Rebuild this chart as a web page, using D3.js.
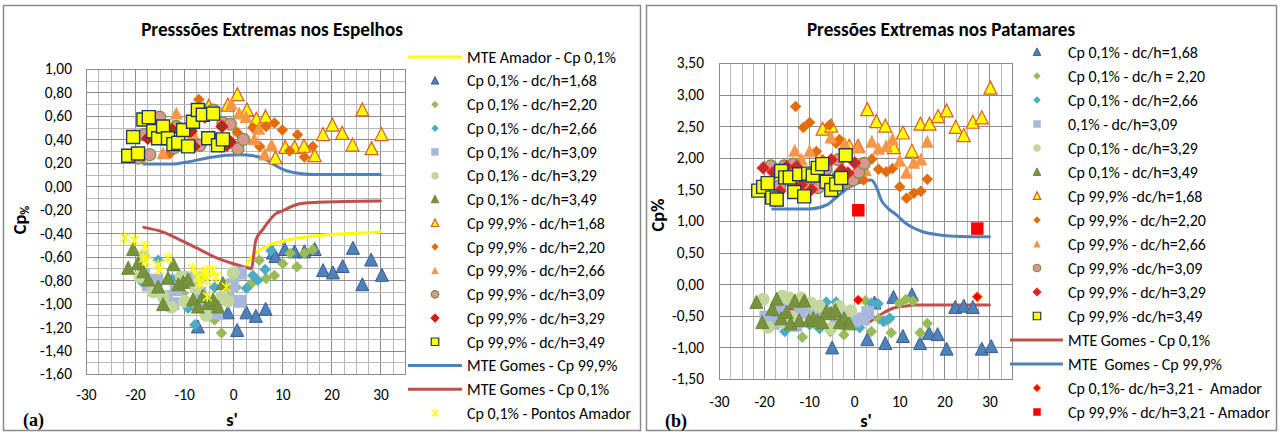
<!DOCTYPE html>
<html><head><meta charset="utf-8">
<script src="https://cdn.jsdelivr.net/npm/d3@7"></script>
<style>
html,body{margin:0;padding:0;background:#fff;}
text{white-space:pre;}
</style></head>
<body>
<svg id="c" width="1280" height="434"></svg>
<script>
// ---------- DATA ----------
const xTicks = [-30,-20,-10,0,10,20,30];
const yTicksL = [-1.6,-1.4,-1.2,-1.0,-0.8,-0.6,-0.4,-0.2,0,0.2,0.4,0.6,0.8,1.0];
const yTicksR = [-1.5,-1.0,-0.5,0,0.5,1.0,1.5,2.0,2.5,3.0,3.5];

// Left chart: Espelhos
const amadorLineL = [[2.4,-0.69],[3,-0.65],[4,-0.59],[5,-0.555],[6.7,-0.515],[8,-0.49],[10,-0.47],[12,-0.45],[15,-0.43],[20,-0.41],[25,-0.40],[30,-0.39]];
const gomes99L = [[-18.2,0.19],[-12.3,0.19],[-9.6,0.205],[-5.5,0.24],[-1.4,0.265],[1.3,0.27],[4.1,0.26],[6,0.24],[6.8,0.225],[8.5,0.18],[10.1,0.145],[12,0.12],[13.5,0.11],[16.9,0.10],[30,0.10]];
const gomes01L = [[-18.2,-0.35],[-14.3,-0.39],[-10.2,-0.47],[-6.8,-0.54],[-3.4,-0.61],[0,-0.66],[2,-0.685],[3.7,-0.70],[4.6,-0.46],[6,-0.37],[8.8,-0.23],[10,-0.21],[12,-0.17],[14.2,-0.145],[17.5,-0.135],[30,-0.125]];
const p01_168L = [[-7.2,-1.20],[-1.1,-1.08],[0.8,-1.23],[2.7,-1.08],[4.6,-1.11],[6.6,-1.05],[8.1,-0.57],[8.6,-0.60],[10.5,-0.54],[12.5,-0.56],[14.5,-0.56],[16.6,-0.54],[18.3,-0.72],[20.3,-0.74],[22.3,-0.685],[24.4,-0.53],[26.3,-0.84],[28.1,-0.63],[30.3,-0.76]];
const p01_220L = [[-15.6,-0.87],[-10.2,-0.91],[-6.4,-0.93],[-3.8,-1.14],[-2.4,-1.25],[0.6,-0.86],[3.7,-0.83],[5.3,-0.63],[6.7,-0.785],[8.4,-0.76],[10.1,-0.66],[11.6,-0.57],[13,-0.685],[14.5,-0.57],[16.2,-0.54]];
const p01_266L = [[-18.7,-0.81],[-15.3,-0.63],[-12.4,-0.79],[-9.2,-1.04],[-7.8,-1.18],[-3.8,-0.86],[0.9,-0.99],[2.7,-0.87],[4,-0.76],[5,-0.80],[6.5,-0.71],[7.7,-0.55]];
const p01_309L = [[-18.3,-0.76],[-17.3,-0.84],[-15.6,-0.80],[-13.7,-0.94],[-12.3,-1.0],[-11.6,-0.88],[-9.5,-0.78],[-6.8,-0.91],[-5.5,-1.05],[-3.4,-1.08],[-1.4,-0.94],[-0.2,-0.84],[1.3,-0.74],[1.3,-0.98]];
const p01_329L = [[-19,-0.77],[-18.3,-0.60],[-16.3,-0.90],[-14.3,-0.94],[-12.6,-1.03],[-10.6,-0.77],[-9.9,-0.98],[-7.6,-0.87],[-6.9,-0.78],[-5.5,-1.10],[-2.3,-0.94],[-1.1,-0.98],[0,-0.74]];
const p01_349L = [[-21.4,-0.70],[-20.4,-0.54],[-19.4,-0.66],[-18.3,-0.73],[-17.3,-0.80],[-15.3,-0.86],[-14.3,-1.01],[-13.3,-0.785],[-12.2,-0.67],[-11.2,-0.84],[-10.2,-0.82],[-9.2,-0.80],[-8.2,-0.97],[-7.2,-1.03],[-6.2,-0.94],[-5.1,-1.0],[-4.1,-0.97],[-3.1,-1.03],[-2.1,-0.83]];
const p999_168L = [[-5,0.68],[-1.1,0.69],[0.85,0.78],[2.8,0.65],[4.7,0.57],[6.6,0.59],[8.6,0.24],[10.6,0.33],[12.5,0.33],[14.4,0.34],[16.6,0.26],[18.3,0.44],[20.2,0.52],[22.2,0.45],[24.3,0.35],[26.3,0.65],[28.2,0.32],[30.2,0.44]];
const p999_220L = [[-12.9,0.28],[-11.8,0.39],[-7,0.74],[-2.2,0.51],[0.8,0.46],[4,0.50],[5.4,0.34],[6.7,0.51],[8.4,0.54],[10,0.48],[11.5,0.30],[13.1,0.44],[14.5,0.25],[16.2,0.34]];
const p999_266L = [[-18.9,0.25],[-14.3,0.28],[-11.6,0.62],[-8.2,0.45],[-4.2,0.65],[-0.4,0.70],[1.2,0.62],[2.6,0.59],[4.3,0.40],[5.2,0.49],[6.4,0.27],[7.8,0.35]];
const p999_309L = [[-19.4,0.24],[-18.2,0.44],[-17,0.27],[-15,0.59],[-12,0.33],[-11.6,0.51],[-8.1,0.53],[-6.8,0.35],[-5.8,0.62],[-4.1,0.65],[-2.1,0.54],[-0.6,0.53],[0.95,0.32],[2.1,0.40]];
const p999_329L = [[-20.2,0.28],[-17.4,0.41],[-12.4,0.48],[-8.6,0.47],[-8,0.34],[-5.8,0.59],[-4.1,0.42],[-2.3,0.51],[-1.3,0.35],[-0.6,0.38]];
const p999_349L = [[-21.4,0.26],[-19.4,0.28],[-20.4,0.42],[-18.3,0.57],[-17.2,0.59],[-16.3,0.47],[-15.3,0.41],[-14.3,0.51],[-13.3,0.41],[-12.2,0.36],[-11.2,0.37],[-10.2,0.48],[-9.2,0.34],[-8.2,0.55],[-7.2,0.65],[-6.2,0.61],[-5.1,0.41],[-4.1,0.62],[-3.1,0.35],[-2.1,0.40]];
const amadorPtsL = [[-22.1,-0.44],[-20.1,-0.46],[-18,-0.51],[-18.3,-0.61],[-17.7,-0.64],[-15.3,-0.67],[-15.1,-0.71],[-13.3,-0.61],[-8.2,-0.70],[-7.2,-0.77],[-6.8,-0.83],[-6.2,-0.74],[-5.4,-0.72],[-5.3,-0.80],[-5.3,-0.94],[-4.2,-0.72],[-3.5,-0.77],[-1.4,-0.86]];

// Right chart: Patamares
const gomes99R = [[-18.1,1.19],[-9.9,1.19],[-6.2,1.25],[-3.9,1.38],[-1,1.54],[1.6,1.62],[3.8,1.65],[4.9,1.54],[6,1.33],[7.5,1.2],[9.3,1.1],[11.5,0.96],[15.2,0.83],[18.9,0.78],[23.4,0.755],[30,0.75]];
const gomes01R = [[-18,-0.37],[-12.8,-0.40],[-8.4,-0.43],[-3.2,-0.51],[-0.3,-0.61],[2.7,-0.61],[5.6,-0.49],[8.6,-0.38],[11.5,-0.345],[13.7,-0.33],[30,-0.33]];
const amador01R = [[0.9,-0.25],[27.3,-0.20]];
const amador999R = [[0.9,1.17],[27.3,0.88]];
const p01_168R = [[-4.9,-1.01],[2.9,-0.88],[4.5,-0.30],[6.9,-0.94],[8.7,-0.21],[10.8,-0.83],[12.8,-0.17],[14.6,-0.94],[16.6,-0.78],[18.5,-0.80],[20.5,-1.03],[22.4,-0.37],[24.3,-0.35],[26.3,-0.37],[28.3,-1.03],[30.4,-0.99]];
const p01_220R = [[-15.6,-0.45],[-11.5,-0.84],[-5.3,-0.75],[-2.3,-0.80],[2.5,-0.26],[3.8,-0.75],[5.5,-0.55],[7.3,-0.57],[8.2,-0.77],[10,-0.30],[11.5,-0.24],[13,-0.27],[14.6,-0.77],[16.2,-0.62]];
const p01_266R = [[-18,-0.52],[-15.4,-0.75],[-9.9,-0.64],[-7.7,-0.70],[-6.2,-0.28],[-4,-0.28],[-2.2,-0.59],[1.2,-0.69],[3.8,-0.30],[5.3,-0.31],[6.5,-0.59],[7.9,-0.54]];
const p01_309R = [[-19.6,-0.52],[-18,-0.62],[-16,-0.40],[-14,-0.55],[-13,-0.65],[-12,-0.45],[-10,-0.35],[-9,-0.50],[-8,-0.60],[-6,-0.45],[-4,-0.55],[-2,-0.50],[0,-0.58],[2,-0.55],[3,-0.45]];
const p01_329R = [[-20.2,-0.24],[-19.1,-0.68],[-16,-0.19],[-15.9,-0.60],[-14.4,-0.22],[-13.7,-0.52],[-11.8,-0.22],[-9.6,-0.30],[-7.7,-0.35],[-5.2,-0.70],[-3.4,-0.35],[-2.9,-0.63],[-0.8,-0.42]];
const p01_349R = [[-21.7,-0.29],[-20.4,-0.61],[-18.2,-0.40],[-17.2,-0.24],[-16.2,-0.55],[-15,-0.45],[-14.1,-0.63],[-13.2,-0.27],[-12.2,-0.58],[-11.1,-0.27],[-10.1,-0.58],[-9.1,-0.55],[-8.1,-0.58],[-7.1,-0.61],[-6.2,-0.44],[-5.2,-0.47],[-4.2,-0.42],[-3.2,-0.61],[-2.2,-0.55],[-1.1,-0.63]];
const p999_168R = [[-7,2.45],[-5.1,2.50],[-1.1,2.18],[0.85,2.18],[2.9,2.76],[4.9,2.57],[6.9,2.50],[8.8,2.16],[10.8,2.39],[12.8,2.10],[14.7,2.53],[16.7,2.53],[18.6,2.65],[20.5,2.74],[22.5,2.48],[24.3,2.35],[26.3,2.56],[28.3,2.63],[30.2,3.10]];
const p999_220R = [[-13,2.81],[-11.3,2.48],[-9.9,2.56],[-8.4,2.10],[-7,1.97],[-5.5,2.52],[-4,2.23],[-3.3,2.29],[2.1,1.65],[3.9,1.98],[5.4,1.82],[7.1,1.78],[8.5,1.83],[10.1,1.54],[11.6,1.36],[13.2,1.44],[14.8,1.47],[16.2,1.66]];
const p999_266R = [[-13.2,2.11],[-11.7,1.97],[-9.9,2.10],[-7,1.80],[-5.2,2.32],[-2.1,2.22],[0.9,2.16],[2.5,1.80],[3.9,2.25],[5.4,2.14],[7.1,2.18],[8.5,2.29],[10.1,1.95],[11.6,1.76],[13.2,1.92],[14.8,1.97],[16.2,2.25]];
const p999_309R = [[-18.5,1.87],[-16.5,1.56],[-15.5,1.87],[-13.5,1.90],[-12.5,1.51],[-9.3,1.66],[-8,1.53],[-6.3,1.82],[-3.5,1.97],[-3.5,1.71],[-1.8,1.61],[-0.3,1.65],[1,1.77],[2.2,1.91]];
const p999_329R = [[-20.2,1.84],[-18,1.77],[-16.5,1.47],[-15,1.86],[-12.8,1.86],[-11.7,1.57],[-9.5,1.50],[-8.4,1.76],[-6.9,1.89],[-5.1,1.97],[-2.8,1.81],[-1.4,1.76],[0.1,1.92]];
const p999_349R = [[-21.3,1.48],[-20.2,1.54],[-19.2,1.60],[-18.2,1.37],[-17.2,1.34],[-16.2,1.79],[-15.3,1.69],[-14.3,1.69],[-13.3,1.46],[-12.2,1.74],[-11.1,1.39],[-10.2,1.75],[-9.2,1.72],[-8.1,1.84],[-7.1,1.90],[-6.1,1.62],[-5.1,1.49],[-4,1.58],[-2.9,1.68],[-1.9,2.04]];

// ---------- STYLES ----------
const ST = {
  s01_168:{shape:"tri",size:13,fill:"#4F81BD",stroke:"#385D8A",sw:1},
  s01_220:{shape:"dia",size:11.5,fill:"#9BBB59",stroke:"none",sw:0},
  s01_266:{shape:"dia",size:11.5,fill:"#4BACC6",stroke:"none",sw:0},
  s01_309:{shape:"sq",size:13,fill:"#A7B8DC",stroke:"none",sw:0},
  s01_329:{shape:"circ",size:13,fill:"#C3D69B",stroke:"none",sw:0},
  s01_349:{shape:"tri",size:13,fill:"#77933C",stroke:"#6B8636",sw:1},
  s999_168:{shape:"tri",size:13,fill:"#FFFF00",stroke:"#DC5A30",sw:1.2},
  s999_220:{shape:"dia",size:11.5,fill:"#E46C0A",stroke:"none",sw:0},
  s999_266:{shape:"tri",size:13,fill:"#F79646",stroke:"none",sw:0},
  s999_309:{shape:"circ",size:12,fill:"#D99694",stroke:"#77933C",sw:1.3},
  s999_329L:{shape:"dia",size:11.5,fill:"#8E3B23",stroke:"#FF0000",sw:1.3},
  s999_329R:{shape:"dia",size:11.5,fill:"#B5322E",stroke:"#FF1A1A",sw:1.3},
  s999_349:{shape:"sq",size:13,fill:"#FFFF00",stroke:"#1F3864",sw:1.4},
  amaPts:{shape:"star",size:11,fill:"none",stroke:"#FFFF00",sw:1.5},
  ama01R:{shape:"dia",size:10,fill:"#FF0000",stroke:"#FF7A00",sw:1},
  ama999R:{shape:"sq",size:12.5,fill:"#FF0000",stroke:"none",sw:0}
};
const LINE = {
  amador:{color:"#FFFF00"}, g99:{color:"#4F81BD"}, g01:{color:"#C0504D"}
};

function shapePath(shape, w){
  const h=w/2;
  switch(shape){
    case "tri": return `M0,${-0.55*w}L${h},${0.45*w}L${-h},${0.45*w}Z`;
    case "dia": return `M0,${-h}L${h},0L0,${h}L${-h},0Z`;
    case "sq": return `M${-h},${-h}h${w}v${w}h${-w}Z`;
    case "circ": return `M${-h},0a${h},${h} 0 1,0 ${w},0a${h},${h} 0 1,0 ${-w},0Z`;
    case "star": { const a=h*0.8; return `M${-a},${-a}L${a},${a}M${a},${-a}L${-a},${a}M0,${-h}L0,${h}`; }
  }
}

const FONT = "Carlito, Lato, 'Open Sans', sans-serif";
const svg = d3.select("#c");

function measure(txt, size, weight, family){
  const t = svg.append("text").attr("font-family",family).attr("font-size",size).attr("font-weight",weight).text(txt);
  const w = t.node().getComputedTextLength(); t.remove(); return w;
}
function fit(txt, target, weight, family){ return 100*target/measure(txt,100,weight,family||FONT); }

const legFS = fit("Cp 0,1% - dc/h=1,68", 130, "normal");
const tickFS = fit("-1,60", 32, "normal");
const titleFS = fit("Presssões Extremas nos Espelhos", 262, "bold");
const loc = d3.formatLocale({decimal:",",thousands:".",grouping:[3],currency:["",""],minus:"-"});
const fmt = loc.format(".2f");

// ---------- FRAMES ----------
svg.append("rect").attr("x",3.5).attr("y",5.5).attr("width",637).attr("height",425).attr("fill","#fff").attr("stroke","#8a8a8a").attr("stroke-width",1.5);
svg.append("rect").attr("x",646.5).attr("y",5.5).attr("width",630).attr("height",425).attr("fill","#fff").attr("stroke","#8a8a8a").attr("stroke-width",1.5);

function panel(cfg){
  const g = svg.append("g");
  const x = d3.scaleLinear([-30,35],cfg.xr);
  const y = d3.scaleLinear(cfg.yd,cfg.yr);
  const vlines = d3.range(-30,35.01,2.5);
  g.selectAll(null).data(vlines).join("line")
    .attr("x1",d=>Math.round(x(d))+0.5).attr("x2",d=>Math.round(x(d))+0.5)
    .attr("y1",cfg.yr[1]).attr("y2",cfg.yr[0])
    .attr("stroke",d=>(d%10===0)?"#8c8c8c":"#b8b8b8").attr("stroke-width",1);
  g.selectAll(null).data(cfg.hlines).join("line")
    .attr("y1",d=>Math.round(y(d.v))+0.5).attr("y2",d=>Math.round(y(d.v))+0.5)
    .attr("x1",cfg.xr[0]).attr("x2",cfg.xr[1])
    .attr("stroke",d=>d.major?"#8c8c8c":"#b8b8b8").attr("stroke-width",1);
  g.append("rect").attr("x",cfg.xr[0]+0.5).attr("y",cfg.yr[1]+0.5)
    .attr("width",cfg.xr[1]-cfg.xr[0]).attr("height",cfg.yr[0]-cfg.yr[1])
    .attr("fill","none").attr("stroke","#8c8c8c");
  const ay = g.append("g").attr("transform",`translate(${cfg.xr[0]},0)`)
    .call(d3.axisLeft(y).tickValues(cfg.yticks).tickFormat(d=>fmt(Math.round(d*100)/100)).tickSize(0).tickPadding(cfg.yPad));
  const ax = g.append("g").attr("transform",`translate(0,${cfg.yr[0]})`)
    .call(d3.axisBottom(x).tickValues(xTicks).tickFormat(d=>String(d)).tickSize(0).tickPadding(cfg.xPad));
  [ay,ax].forEach(a=>{a.select(".domain").remove(); a.selectAll("text").attr("font-family",FONT).attr("font-size",tickFS).attr("fill","#000");});
  const lg = d3.line().x(d=>x(d[0])).y(d=>y(d[1])).curve(d3.curveMonotoneX);
  cfg.lines.forEach(L=>{
    g.append("path").attr("d",lg(L.data)).attr("fill","none").attr("stroke",L.color).attr("stroke-width",3).attr("stroke-linejoin","round").attr("stroke-linecap","round");
  });
  cfg.series.forEach(S=>{
    const st=S.st;
    g.append("g").selectAll("path").data(S.data).join("path")
      .attr("transform",d=>`translate(${x(d[0])},${y(d[1])})`)
      .attr("d",shapePath(st.shape,st.size))
      .attr("fill",st.fill).attr("stroke",st.stroke).attr("stroke-width",st.sw);
  });
  g.append("text").attr("x",cfg.titleX).attr("y",cfg.titleY).attr("text-anchor","middle")
    .attr("font-family",FONT).attr("font-weight","bold").attr("font-size",titleFS).text(cfg.title);
  g.append("text").attr("x",cfg.sX).attr("y",cfg.sY).attr("text-anchor","middle")
    .attr("font-family",FONT).attr("font-weight","bold").attr("font-size",tickFS*1.2).text("s'");
  g.append("text").attr("x",cfg.labX).attr("y",cfg.sY).attr("font-family","'Liberation Serif', 'DejaVu Serif', serif")
    .attr("font-weight","bold").attr("font-size",18).text(cfg.lab);
  const yt = g.append("text").attr("transform",`translate(${cfg.cpX},${cfg.cpY}) rotate(-90)`).attr("text-anchor","middle")
    .attr("font-family",FONT).attr("font-weight","bold").attr("font-size",tickFS*1.2);
  yt.append("tspan").text("Cp");
  if(cfg.cpSub){ yt.append("tspan").attr("font-size",tickFS*0.8).attr("dy",3).text("%"); }
  else { yt.append("tspan").text("%"); }
  cfg.legend.forEach((it,i)=>{
    const yy = cfg.legY0 + i*cfg.legDy;
    if(it.line){
      g.append("line").attr("x1",cfg.legL[0]).attr("x2",cfg.legL[1]).attr("y1",yy).attr("y2",yy)
        .attr("stroke",it.line).attr("stroke-width",3);
    } else {
      g.append("path").attr("transform",`translate(${cfg.legM},${yy})`)
        .attr("d",shapePath(it.st.shape,it.st.shape==="star"?8:7.5))
        .attr("fill",it.st.fill).attr("stroke",it.st.stroke).attr("stroke-width",Math.min(it.st.sw,1.2));
    }
    g.append("text").attr("x",cfg.legT).attr("y",yy).attr("dy","0.36em")
      .attr("font-family",FONT).attr("font-size",legFS).attr("fill","#000").text(it.t);
  });
}

const hL = d3.range(-16,11).map(i=>({v:i/10, major: (Math.abs(i)%2===0)}));
const hR = d3.range(-3,8).map(i=>({v:i/2, major:true}));

panel({
  xr:[86,405], yd:[-1.6,1.0], yr:[374,69], yticks:yTicksL, hlines:hL, yPad:14, xPad:15,
  title:"Presssões Extremas nos Espelhos", titleX:272, titleY:36,
  sX:232, sY:426, labX:23, lab:"(a)", cpX:26, cpY:220, cpSub:true,
  lines:[{data:amadorLineL,color:LINE.amador.color},{data:gomes99L,color:LINE.g99.color},{data:gomes01L,color:LINE.g01.color}],
  series:[
    {data:p01_168L,st:ST.s01_168},{data:p01_220L,st:ST.s01_220},{data:p01_266L,st:ST.s01_266},
    {data:p01_309L,st:ST.s01_309},{data:p01_329L,st:ST.s01_329},{data:p01_349L,st:ST.s01_349},
    {data:p999_168L,st:ST.s999_168},{data:p999_220L,st:ST.s999_220},{data:p999_266L,st:ST.s999_266},
    {data:p999_309L,st:ST.s999_309},{data:p999_329L,st:ST.s999_329L},{data:p999_349L,st:ST.s999_349},
    {data:amadorPtsL,st:ST.amaPts}
  ],
  legY0:57, legDy:23.73, legL:[408,462], legM:435, legT:467,
  legend:[
    {t:"MTE Amador - Cp 0,1%",line:LINE.amador.color},
    {t:"Cp 0,1% - dc/h=1,68",st:ST.s01_168},
    {t:"Cp 0,1% - dc/h=2,20",st:ST.s01_220},
    {t:"Cp 0,1% - dc/h=2,66",st:ST.s01_266},
    {t:"Cp 0,1% - dc/h=3,09",st:ST.s01_309},
    {t:"Cp 0,1% - dc/h=3,29",st:ST.s01_329},
    {t:"Cp 0,1% - dc/h=3,49",st:ST.s01_349},
    {t:"Cp 99,9% - dc/h=1,68",st:ST.s999_168},
    {t:"Cp 99,9% - dc/h=2,20",st:ST.s999_220},
    {t:"Cp 99,9% - dc/h=2,66",st:ST.s999_266},
    {t:"Cp 99,9% - dc/h=3,09",st:ST.s999_309},
    {t:"Cp 99,9% - dc/h=3,29",st:ST.s999_329L},
    {t:"Cp 99,9% - dc/h=3,49",st:ST.s999_349},
    {t:"MTE Gomes - Cp 99,9%",line:LINE.g99.color},
    {t:"MTE Gomes - Cp 0,1%",line:LINE.g01.color},
    {t:"Cp 0,1% - Pontos Amador",st:ST.amaPts}
  ]
});

panel({
  xr:[719,1012], yd:[-1.5,3.5], yr:[379,63], yticks:yTicksR, hlines:hR, yPad:15, xPad:17,
  title:"Pressões Extremas nos Patamares", titleX:941, titleY:36,
  sX:866, sY:427, labX:665, lab:"(b)", cpX:664, cpY:215, cpSub:false,
  lines:[{data:gomes01R,color:LINE.g01.color},{data:gomes99R,color:LINE.g99.color}],
  series:[
    {data:p01_168R,st:ST.s01_168},{data:p01_220R,st:ST.s01_220},{data:p01_266R,st:ST.s01_266},
    {data:p01_309R,st:ST.s01_309},{data:p01_329R,st:ST.s01_329},{data:p01_349R,st:ST.s01_349},
    {data:p999_168R,st:ST.s999_168},{data:p999_220R,st:ST.s999_220},{data:p999_266R,st:ST.s999_266},
    {data:p999_309R,st:ST.s999_309},{data:p999_329R,st:ST.s999_329R},{data:p999_349R,st:ST.s999_349},
    {data:amador01R,st:ST.ama01R},{data:amador999R,st:ST.ama999R}
  ],
  legY0:52, legDy:24, legL:[1010,1063], legM:1037, legT:1068,
  legend:[
    {t:"Cp 0,1% - dc/h=1,68",st:ST.s01_168},
    {t:"Cp 0,1% - dc/h = 2,20",st:ST.s01_220},
    {t:"Cp 0,1% - dc/h=2,66",st:ST.s01_266},
    {t:"0,1% - dc/h=3,09",st:ST.s01_309},
    {t:"Cp 0,1% - dc/h=3,29",st:ST.s01_329},
    {t:"Cp 0,1% - dc/h=3,49",st:ST.s01_349},
    {t:"Cp 99,9% -dc/h=1,68",st:ST.s999_168},
    {t:"Cp 99,9% - dc/h=2,20",st:ST.s999_220},
    {t:"Cp 99,9% - dc/h=2,66",st:ST.s999_266},
    {t:"Cp 99,9% -dc/h=3,09",st:ST.s999_309},
    {t:"Cp 99,9% - dc/h=3,29",st:ST.s999_329R},
    {t:"Cp 99,9% -dc/h=3,49",st:ST.s999_349},
    {t:"MTE Gomes - Cp 0,1%",line:LINE.g01.color},
    {t:"MTE  Gomes - Cp 99,9%",line:LINE.g99.color},
    {t:"Cp 0,1%- dc/h=3,21 -  Amador",st:ST.ama01R},
    {t:"Cp 99,9% - dc/h=3,21 - Amador",st:ST.ama999R}
  ]
});
</script>
</body></html>
